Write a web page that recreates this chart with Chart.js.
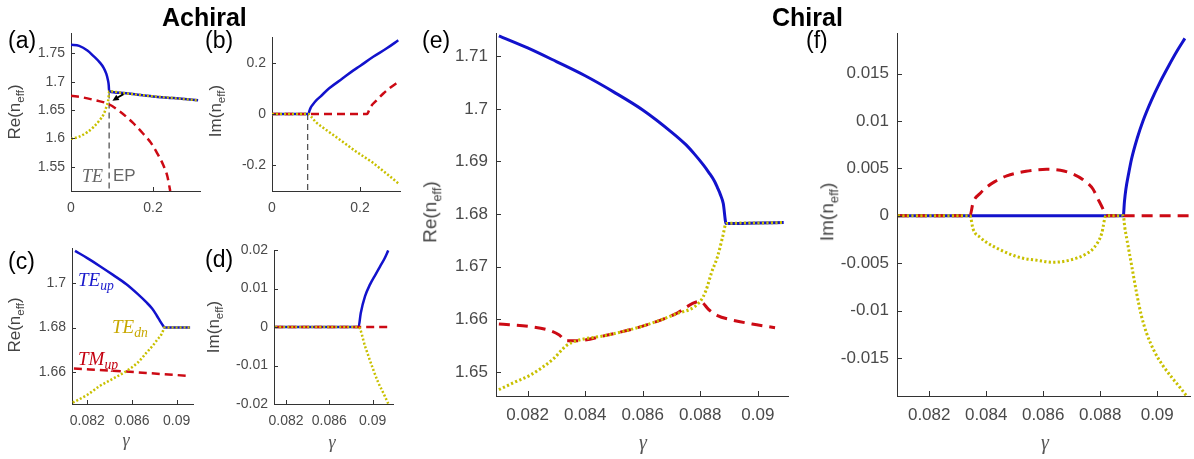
<!DOCTYPE html>
<html><head><meta charset="utf-8">
<script src="https://cdn.jsdelivr.net/npm/chart.js@4.4.1/dist/chart.umd.min.js"></script>
<style>
html,body{margin:0;padding:0;background:#fff;}
body{width:1194px;height:459px;position:relative;overflow:hidden;font-family:"Liberation Sans",Arial,Helvetica,sans-serif;}
canvas{position:absolute;}
.t{position:absolute;white-space:nowrap;line-height:1;z-index:5;}
.ttl{font-weight:bold;font-size:25px;color:#000;}
.pl{font-size:23px;color:#000;}
.yl{position:absolute;white-space:nowrap;line-height:1;color:#444;transform:translate(-50%,-50%) rotate(-90deg);z-index:5;}
.yl sub{font-size:0.68em;vertical-align:-0.35em;}
.g{position:absolute;font-family:"Liberation Serif","Times New Roman",serif;font-style:italic;color:#555;transform:translate(-50%,-50%);line-height:1;z-index:5;}
.ser{font-family:"Liberation Serif","Times New Roman",serif;font-style:italic;}
.ser sub{font-size:0.72em;vertical-align:-0.3em;}
</style></head>
<body>
<div class="t ttl" style="left:162px;top:5px;">Achiral</div>
<div class="t ttl" style="left:772px;top:5px;">Chiral</div>
<div class="t pl" style="left:8px;top:29px;">(a)</div>
<div class="t pl" style="left:205px;top:29px;">(b)</div>
<div class="t pl" style="left:8px;top:250px;">(c)</div>
<div class="t pl" style="left:205px;top:248px;">(d)</div>
<div class="t pl" style="left:422px;top:29px;">(e)</div>
<div class="t pl" style="left:806px;top:29px;">(f)</div>

<div class="yl" style="left:16px;top:112px;font-size:17px;">Re(n<sub>eff</sub>)</div>
<div class="yl" style="left:217px;top:111px;font-size:17px;">Im(n<sub>eff</sub>)</div>
<div class="yl" style="left:16px;top:325px;font-size:17px;">Re(n<sub>eff</sub>)</div>
<div class="yl" style="left:215px;top:327px;font-size:17px;">Im(n<sub>eff</sub>)</div>
<div class="yl" style="left:432px;top:212px;font-size:19px;">Re(n<sub>eff</sub>)</div>
<div class="yl" style="left:829px;top:212px;font-size:19px;">Im(n<sub>eff</sub>)</div>

<div class="g" style="left:126px;top:440px;font-size:18px;">γ</div>
<div class="g" style="left:332px;top:442px;font-size:18px;">γ</div>
<div class="g" style="left:643px;top:442px;font-size:20px;">γ</div>
<div class="g" style="left:1045px;top:442px;font-size:20px;">γ</div>

<div class="t ser" style="left:82px;top:167px;font-size:18px;color:#666;">TE</div>
<div class="t" style="left:113px;top:167px;font-size:17px;color:#666;">EP</div>
<div class="t ser" style="left:78px;top:270px;font-size:19px;color:#1a1acc;">TE<sub>up</sub></div>
<div class="t ser" style="left:112px;top:317px;font-size:19px;color:#c8a800;">TE<sub>dn</sub></div>
<div class="t ser" style="left:78px;top:349px;font-size:19px;color:#c40010;">TM<sub>up</sub></div>

<script>
// ---------- data (gamma, value) ----------
// (a) Achiral, Re(n_eff)
const aBlue   = [[0,1.765],[0.02,1.763],[0.04,1.755],[0.055,1.745],[0.07,1.734],[0.08,1.724],[0.086,1.714],[0.09,1.703],[0.092,1.694],[0.093,1.683],[0.12,1.6805],[0.15,1.678],[0.2,1.674],[0.25,1.671],[0.31,1.667]];
const aYellow = [[0,1.599],[0.02,1.603],[0.04,1.611],[0.055,1.620],[0.07,1.632],[0.08,1.643],[0.087,1.657],[0.091,1.668],[0.093,1.683],[0.12,1.6805],[0.15,1.678],[0.2,1.674],[0.25,1.671],[0.31,1.667]];
const aRed    = [[0,1.675],[0.03,1.672],[0.06,1.667],[0.09,1.661],[0.12,1.647],[0.15,1.628],[0.175,1.609],[0.195,1.592],[0.21,1.574],[0.225,1.553],[0.235,1.533],[0.242,1.507]];
const aGuide  = [[0.093,1.681],[0.093,1.507]];
const aArrowTail = [0.128,1.678];
const aArrowHead = [0.101,1.6665];
const aXTicks = [0,0.2];
const aYTicks = [1.55,1.6,1.65,1.7,1.75];
// (b) Achiral, Im(n_eff)
const bBlue   = [[0,0],[0.083,0],[0.085,0.012],[0.088,0.025],[0.092,0.035],[0.1,0.052],[0.11,0.068],[0.13,0.1],[0.16,0.138],[0.185,0.17],[0.2,0.187],[0.23,0.223],[0.26,0.255],[0.287,0.287]];
const bYellow = [[0,0],[0.083,0],[0.09,-0.012],[0.1,-0.032],[0.12,-0.058],[0.155,-0.101],[0.19,-0.145],[0.23,-0.191],[0.26,-0.232],[0.287,-0.27]];
const bRed    = [[0,0],[0.216,0],[0.223,0.025],[0.237,0.052],[0.253,0.08],[0.27,0.104],[0.287,0.125]];
const bGuide  = [[0.081,0],[0.081,-0.3]];
const bXTicks = [0,0.2];
const bYTicks = [-0.2,0,0.2];
// (c) Achiral zoom, Re(n_eff)
const cBlue   = [[0.0809,1.7142],[0.082,1.7110],[0.0831,1.7075],[0.0843,1.7035],[0.0855,1.6993],[0.0865,1.6950],[0.0873,1.6912],[0.0878,1.6885],[0.0882,1.6855],[0.0885,1.683],[0.0888,1.6807],[0.0889,1.680],[0.090,1.680],[0.0912,1.680]];
const cYellow = [[0.0807,1.6465],[0.082,1.6500],[0.0831,1.6539],[0.0843,1.6572],[0.0855,1.6606],[0.0865,1.6643],[0.0873,1.6688],[0.0879,1.6722],[0.0883,1.6748],[0.0887,1.6775],[0.0889,1.680],[0.090,1.680],[0.0912,1.680]];
const cRed    = [[0.0808,1.6617],[0.085,1.6605],[0.088,1.6595],[0.0912,1.6584]];
const cXTicks = [0.082,0.086,0.09];
const cYTicks = [1.66,1.68,1.7];
// (d) Achiral zoom, Im(n_eff)
const dBlue   = [[0.081,0],[0.0887,0],[0.0889,0.0036],[0.0893,0.008],[0.08975,0.011],[0.0902,0.0133],[0.09068,0.0157],[0.0911,0.0178],[0.09144,0.0199]];
const dYellow = [[0.081,0],[0.0887,0],[0.0893,-0.005],[0.09006,-0.0111],[0.0905,-0.0143],[0.09098,-0.0171],[0.09144,-0.0199]];
const dRed    = [[0.081,0],[0.0914,0]];
const dXTicks = [0.082,0.086,0.09];
const dYTicks = [-0.02,-0.01,0,0.01,0.02];
// (e) Chiral, Re(n_eff)
const eBlue   = [[0.0810,1.7139],[0.0820,1.7116],[0.0830,1.7090],[0.0840,1.7063],[0.0850,1.7032],[0.0860,1.6998],[0.0870,1.6956],[0.0875,1.6932],[0.0878,1.6914],[0.0881,1.6894],[0.0883,1.6879],[0.0885,1.6862],[0.0886,1.6850],[0.0887,1.6837],[0.0888,1.6820],[0.0889,1.6782],[0.0900,1.6783],[0.0909,1.6784]];
const eYellow = [[0.0810,1.6466],[0.0815,1.6479],[0.0821,1.6494],[0.0825,1.6508],[0.0829,1.6525],[0.08335,1.6550],[0.0837,1.6559],[0.0847,1.6569],[0.0860,1.6587],[0.0871,1.6609],[0.0880,1.6634],[0.0882,1.6655],[0.0884,1.6690],[0.0886,1.6719],[0.08878,1.6757],[0.0889,1.6782],[0.0900,1.6783],[0.0909,1.6784]];
const eRed    = [[0.0810,1.6591],[0.0821,1.6586],[0.0828,1.6578],[0.0831,1.6570],[0.08335,1.6559],[0.0837,1.6559],[0.0847,1.6569],[0.0860,1.6587],[0.0871,1.6609],[0.0880,1.6634],[0.0883,1.6618],[0.0886,1.6607],[0.0890,1.6600],[0.0898,1.6591],[0.0906,1.6584]];
const eXTicks = [0.082,0.084,0.086,0.088,0.09];
const eYTicks = [1.65,1.66,1.67,1.68,1.69,1.7,1.71];
// (f) Chiral, Im(n_eff)
const fBlue   = [[0.0809,0],[0.08875,0],[0.08881,0],[0.08885,0.0015],[0.0889,0.0028],[0.0890,0.0045],[0.0891,0.0060],[0.0893,0.0082],[0.0895,0.0100],[0.0898,0.0122],[0.0901,0.0141],[0.0904,0.0158],[0.0907,0.0174],[0.09097,0.0187]];
const fRed    = [[0.0809,0],[0.08343,0],[0.08354,0.0014],[0.0838,0.0024],[0.08401,0.003],[0.0843,0.0036],[0.08472,0.0042],[0.0854,0.0047],[0.08612,0.0049],[0.0866,0.0048],[0.08705,0.0044],[0.0874,0.0038],[0.08775,0.0028],[0.0879,0.0019],[0.0881,0.0007],[0.0882,0],[0.0911,0]];
const fYellow = [[0.0809,0],[0.08343,0],[0.08354,-0.0014],[0.0838,-0.0023],[0.08401,-0.0028],[0.0845,-0.0036],[0.08518,-0.0044],[0.0858,-0.0047],[0.08635,-0.0049],[0.0869,-0.0047],[0.08752,-0.004],[0.0878,-0.0033],[0.08805,-0.0019],[0.0882,0],[0.08881,0],[0.08886,-0.0012],[0.08893,-0.0024],[0.0891,-0.0052],[0.08928,-0.0082],[0.08945,-0.0106],[0.08963,-0.0124],[0.0899,-0.0143],[0.0902,-0.0158],[0.0905,-0.0170],[0.0908,-0.0181],[0.09103,-0.019]];
const fXTicks = [0.082,0.084,0.086,0.088,0.09];
const fYTicks = [-0.015,-0.01,-0.005,0,0.005,0.01,0.015];

// ---------- styling ----------
const BLUE='#1212cc', RED='#cc0a14', YEL='#c8c000', AX='#333333', TC='#4a4a4a';
const FF='"Liberation Sans", Arial, Helvetica, sans-serif';
const fmt = v => String(parseFloat(Number(v).toFixed(5)));
const pts = a => a.map(p => ({x:p[0], y:p[1]}));
function ds(data, kind, w, big){
  const base = {data:pts(data), pointRadius:0, borderWidth:w, fill:false, cubicInterpolationMode:'monotone', borderCapStyle:'butt', borderJoinStyle:'round'};
  if(kind==='blue') return Object.assign(base,{borderColor:BLUE});
  if(kind==='red') return Object.assign(base,{borderColor:RED, borderDash: big?[11,7]:[8,5]});
  if(kind==='yel') return Object.assign(base,{borderColor:YEL, borderDash: big?[2.2,2.3]:[2,2]});
  return Object.assign(base,{borderColor:'#555', borderWidth:1.3, borderDash:[6,4], cubicInterpolationMode:'default', tension:0});
}
const inTicks = {id:'inTicks', afterDraw(ch, args, o){
  const {ctx, chartArea:a, scales:{x,y}} = ch; const L = o.len || 4;
  ctx.save(); ctx.strokeStyle=AX; ctx.lineWidth=1; ctx.beginPath();
  x.ticks.forEach(t=>{const px=Math.round(x.getPixelForValue(t.value))+0.5; ctx.moveTo(px,a.bottom); ctx.lineTo(px,a.bottom-L);});
  y.ticks.forEach(t=>{const py=Math.round(y.getPixelForValue(t.value))+0.5; ctx.moveTo(a.left,py); ctx.lineTo(a.left+L,py);});
  ctx.stroke(); ctx.restore();
}};
const arrow = {id:'arrow', afterDatasetsDraw(ch){
  const {ctx, scales:{x,y}} = ch;
  const x0=x.getPixelForValue(aArrowTail[0]), y0=y.getPixelForValue(aArrowTail[1]);
  const x1=x.getPixelForValue(aArrowHead[0]), y1=y.getPixelForValue(aArrowHead[1]);
  const ang=Math.atan2(y1-y0,x1-x0), h=7;
  ctx.save(); ctx.strokeStyle='#000'; ctx.fillStyle='#000'; ctx.lineWidth=1.8;
  ctx.beginPath(); ctx.moveTo(x0,y0); ctx.lineTo(x1-Math.cos(ang)*h*0.8,y1-Math.sin(ang)*h*0.8); ctx.stroke();
  ctx.beginPath(); ctx.moveTo(x1,y1);
  ctx.lineTo(x1-h*Math.cos(ang-0.45),y1-h*Math.sin(ang-0.45));
  ctx.lineTo(x1-h*Math.cos(ang+0.45),y1-h*Math.sin(ang+0.45)); ctx.closePath(); ctx.fill();
  ctx.restore();
}};

function panel(area, xr, yr, xt, yt, big, datasets, extra){
  const YW=70, PT=15, PR=25, XH=40, fs = big?17:14;
  const c=document.createElement('canvas');
  const W=YW+(area.r-area.l)+PR, H=PT+(area.b-area.t)+XH;
  c.width=W; c.height=H;
  c.style.left=(area.l-YW)+'px'; c.style.top=(area.t-PT)+'px';
  c.style.width=W+'px'; c.style.height=H+'px';
  document.body.appendChild(c);
  new Chart(c, {type:'line', data:{datasets}, options:{
    responsive:false, animation:false, events:[], devicePixelRatio:1,
    layout:{padding:{left:0, top:PT, right:PR, bottom:0}},
    plugins:{legend:{display:false}, tooltip:{enabled:false}, inTicks:{len: big?5:4}},
    scales:{
      x:{type:'linear', min:xr[0], max:xr[1],
         afterBuildTicks:s=>{s.ticks=xt.map(v=>({value:v}));}, afterFit:s=>{s.height=XH;},
         grid:{display:false, drawTicks:false}, border:{display:true, color:AX, width:1},
         ticks:{autoSkip:false, maxRotation:0, minRotation:0, padding:9, color:TC, font:{size:fs, family:FF}, callback:v=>fmt(v)}},
      y:{type:'linear', min:yr[0], max:yr[1],
         afterBuildTicks:s=>{s.ticks=yt.map(v=>({value:v}));}, afterFit:s=>{s.width=YW;},
         grid:{display:false, drawTicks:false}, border:{display:true, color:AX, width:1},
         ticks:{autoSkip:false, padding: big?8:6, color:TC, font:{size:fs, family:FF}, callback:v=>fmt(v)}}
    }}, plugins:[inTicks].concat(extra||[])});
}

panel({l:71,t:33,r:200,b:191}, [0,0.3146], [1.5071,1.7858], aXTicks, aYTicks, false,
  [ds(aYellow,'yel',2.5), ds(aRed,'red',2.5), ds(aBlue,'blue',2.5), ds(aGuide,'guide')], [arrow]);
panel({l:272,t:37,r:400,b:191}, [0,0.2909], [-0.3,0.3], bXTicks, bYTicks, false,
  [ds(bYellow,'yel',2.5), ds(bRed,'red',2.5), ds(bBlue,'blue',2.5), ds(bGuide,'guide')]);
panel({l:72,t:248,r:193,b:404}, [0.08063,0.09146], [1.6459,1.7155], cXTicks, cYTicks, false,
  [ds(cYellow,'yel',2.5), ds(cRed,'red',2.5), ds(cBlue,'blue',2.5)]);
panel({l:274,t:250,r:393,b:404}, [0.08089,0.09188], [-0.02,0.02], dXTicks, dYTicks, false,
  [ds(dYellow,'yel',2.5), ds(dRed,'red',2.5), ds(dBlue,'blue',2.5)]);
panel({l:496,t:30,r:788,b:396}, [0.0809,0.09105], [1.6454,1.7144], eXTicks, eYTicks, true,
  [ds(eYellow,'yel',3,true), ds(eRed,'red',3,true), ds(eBlue,'blue',3,true)]);
panel({l:897,t:30,r:1190,b:396}, [0.08087,0.09115], [-0.019,0.01925], fXTicks, fYTicks, true,
  [ds(fYellow,'yel',3,true), ds(fRed,'red',3,true), ds(fBlue,'blue',3,true)]);
</script>
</body></html>
